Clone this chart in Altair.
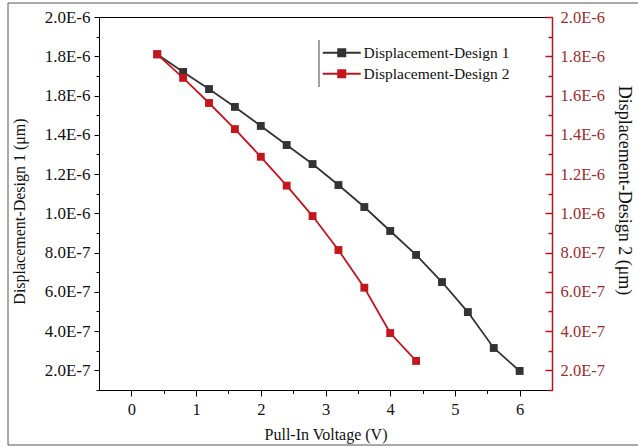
import json

import altair as alt
import pandas as pd

# Pull-in voltage (V) and displacement values for the two designs
voltage_1 = [0.4, 0.8, 1.2, 1.6, 2.0, 2.4, 2.8, 3.2, 3.6, 4.0, 4.4, 4.8, 5.2, 5.6, 6.0]
design_1 = [1.81e-6, 1.72e-6, 1.633e-6, 1.542e-6, 1.445e-6, 1.348e-6, 1.251e-6,
            1.144e-6, 1.032e-6, 9.10e-7, 7.88e-7, 6.50e-7, 4.97e-7, 3.14e-7, 1.97e-7]
voltage_2 = [0.4, 0.8, 1.2, 1.6, 2.0, 2.4, 2.8, 3.2, 3.6, 4.0, 4.4]
design_2 = [1.81e-6, 1.69e-6, 1.562e-6, 1.429e-6, 1.288e-6, 1.141e-6, 9.86e-7,
            8.13e-7, 6.21e-7, 3.90e-7, 2.48e-7]

series_names = ["Displacement-Design 1", "Displacement-Design 2"]
series_colors = ["#333333", "#c4161c"]

# Axis tick positions (major + minor) and their labels
x_ticks = [0, 0.5, 1, 1.5, 2, 2.5, 3, 3.5, 4, 4.5, 5, 5.5, 6]
y_ticks = [k / 1e7 for k in range(1, 21)]
left_labels = ["2.0E-7", "4.0E-7", "6.0E-7", "8.0E-7", "1.0E-6",
               "1.2E-6", "1.4E-6", "1.8E-6", "1.8E-6", "2.0E-6"]
right_labels = ["2.0E-7", "4.0E-7", "6.0E-7", "8.0E-7", "1.0E-6",
                "1.2E-6", "1.4E-6", "1.6E-6", "1.8E-6", "2.0E-6"]

FONT = "Liberation Serif"
TEXT = "#111111"
AXIS_RED = "#b5161c"
LABEL_RED = "#9e2b2b"
TICK_FONT = 16.5

df = pd.concat([
    pd.DataFrame({"voltage": voltage_1, "disp": design_1, "series": series_names[0]}),
    pd.DataFrame({"voltage": voltage_2, "disp": design_2, "series": series_names[1]}),
])


def label_expr(labels):
    # index by multiples of 1e-7; labels sit on the even multiples
    table = [""] * 21
    for i, lab in enumerate(labels):
        table[2 * (i + 1)] = lab
    return json.dumps(table) + "[round(datum.value * 1e7)]"


is_major_y = "round(datum.value * 1e7) % 2 == 0"
is_major_x = "abs(datum.value - round(datum.value)) < 0.01"

x_scale = alt.Scale(domain=[-0.5, 6.5], nice=False, zero=False)
y_scale = alt.Scale(domain=[1e-7, 2e-6], nice=False, zero=False)
color_scale = alt.Scale(domain=series_names, range=series_colors)

legend = alt.Legend(
    title=None, orient="none", legendX=227, legendY=20, padding=8,
    symbolType="M-3.8,0H3.8M-0.72,-0.72H0.72V0.72H-0.72Z",
    symbolSize=100, symbolStrokeWidth=1.8, labelOffset=14,
    labelFont=FONT, labelFontSize=15.5, labelColor=TEXT,
    rowPadding=4, strokeColor="transparent",
)

x_axis = alt.Axis(
    values=x_ticks, title="Pull-In Voltage (V)", grid=False,
    labelExpr=f"{is_major_x} ? '' + round(datum.value) : ''",
    tickSize={"expr": f"{is_major_x} ? 6 : 3.5"},
    tickColor="black", domainColor="black", labelColor=TEXT,
    labelFont=FONT, labelFontSize=TICK_FONT, labelPadding=5,
    titleFont=FONT, titleFontSize=16, titleFontWeight="normal",
    titleColor=TEXT, titlePadding=9,
)

left_axis = alt.Axis(
    orient="left", values=y_ticks, title="Displacement-Design 1 (μm)", grid=False,
    labelExpr=label_expr(left_labels),
    tickSize={"expr": f"{is_major_y} ? 5 : 3"},
    tickColor="black", domainColor="black", labelColor=TEXT,
    labelFont=FONT, labelFontSize=17, labelPadding=4,
    titleFont=FONT, titleFontSize=16, titleFontWeight="normal",
    titleColor=TEXT, titlePadding=17, titleY=194,
)

right_axis = alt.Axis(
    orient="right", values=y_ticks, title="Displacement-Design 2 (μm)", grid=False,
    labelExpr=label_expr(right_labels),
    tickSize={"expr": f"{is_major_y} ? -7 : -4"},
    tickColor=AXIS_RED, domainColor=AXIS_RED, domainWidth=1.5, tickWidth=1.5,
    labelColor=LABEL_RED, labelFont=FONT, labelFontSize=TICK_FONT, labelPadding=15,
    titleFont=FONT, titleFontSize=18, titleFontWeight="normal",
    titleColor=TEXT, titlePadding=10, titleY=173,
)

base = alt.Chart(df)

lines = base.mark_line(strokeWidth=1.8).encode(
    x=alt.X("voltage:Q", scale=x_scale, axis=x_axis),
    y=alt.Y("disp:Q", scale=y_scale, axis=left_axis),
    stroke=alt.Stroke("series:N", scale=color_scale, legend=legend),
    detail="series:N",
)

points = base.mark_square(size=62, opacity=1, filled=True, strokeWidth=0).encode(
    x=alt.X("voltage:Q", scale=x_scale, axis=x_axis),
    y=alt.Y("disp:Q", scale=y_scale, axis=right_axis),
    fill=alt.Fill("series:N", scale=color_scale, legend=legend),
    stroke=alt.Stroke("series:N", scale=color_scale, legend=legend),
)

# figure frame and the legend's left edge
frame_df = pd.DataFrame({"k": [0]})
frame = alt.Chart(frame_df).mark_rect(fill=None, stroke="#555555", strokeWidth=1).encode(
    x=alt.value(-91), x2=alt.value(545), y=alt.value(-14), y2=alt.value(428)
)
legend_edge = alt.Chart(frame_df).mark_rule(color="#444444", strokeWidth=1).encode(
    x=alt.value(220), y=alt.value(23), y2=alt.value(70)
)

chart = alt.layer(frame, lines, points, legend_edge).properties(
    width=453, height=373, autosize="none",
    padding={"left": 99, "top": 17, "right": 86, "bottom": 57},
    background="white",
).configure_view(stroke="black", strokeWidth=1)

chart.save("out.html", embed_options={"renderer": "svg", "actions": False})
